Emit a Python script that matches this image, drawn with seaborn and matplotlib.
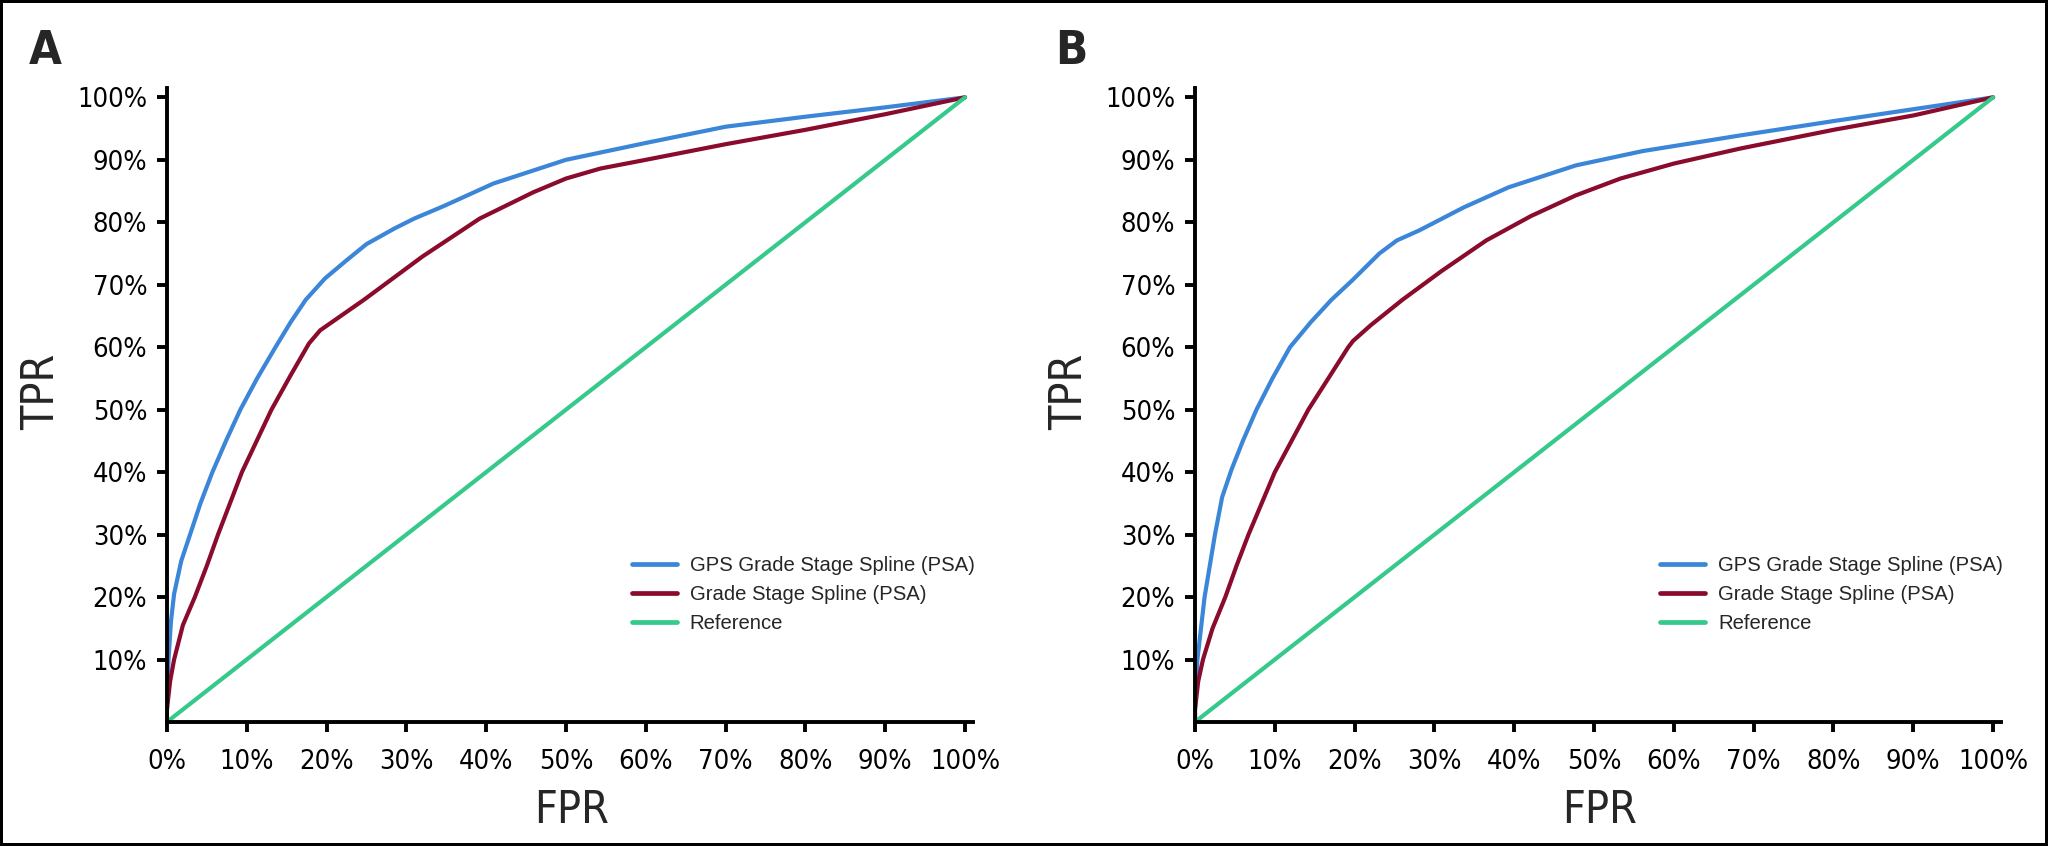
import matplotlib
matplotlib.use("Agg")
import matplotlib.pyplot as plt
import seaborn as sns
import pandas as pd
from matplotlib.ticker import FixedLocator, FuncFormatter

# Panel A curves
a_gps_fpr = [0.0, 0.0, 0.002, 0.005, 0.009, 0.018, 0.029, 0.042, 0.057, 0.074, 0.092, 0.113, 0.136, 0.155, 0.174,
             0.198, 0.225, 0.250, 0.285, 0.310, 0.347, 0.409, 0.50, 0.60, 0.70, 0.80, 0.90, 1.0]
a_gps_tpr = [0.0, 0.015, 0.10, 0.16, 0.205, 0.258, 0.30, 0.35, 0.40, 0.45, 0.50, 0.55, 0.60, 0.64, 0.676,
             0.71, 0.739, 0.765, 0.790, 0.806, 0.826, 0.862, 0.90, 0.927, 0.953, 0.969, 0.984, 1.0]
a_gs_fpr = [0.0, 0.0, 0.004, 0.009, 0.020, 0.035, 0.050, 0.064, 0.094, 0.131, 0.155, 0.178, 0.192, 0.247, 0.32,
            0.392, 0.459, 0.50, 0.543, 0.60, 0.70, 0.80, 0.90, 1.0]
a_gs_tpr = [0.0, 0.02, 0.065, 0.10, 0.155, 0.20, 0.25, 0.30, 0.40, 0.50, 0.555, 0.606, 0.627, 0.676, 0.745,
            0.806, 0.848, 0.870, 0.886, 0.900, 0.925, 0.948, 0.973, 1.0]

# Panel B curves
b_gps_fpr = [0.0, 0.0, 0.003, 0.012, 0.025, 0.034, 0.046, 0.060, 0.077, 0.097, 0.119, 0.145, 0.171,
             0.197, 0.231, 0.253, 0.281, 0.337, 0.393, 0.477, 0.561, 0.683, 0.80, 0.90, 1.0]
b_gps_tpr = [0.0, 0.02, 0.10, 0.20, 0.30, 0.36, 0.405, 0.45, 0.50, 0.55, 0.60, 0.64, 0.676,
             0.707, 0.75, 0.771, 0.787, 0.824, 0.856, 0.891, 0.914, 0.939, 0.962, 0.981, 1.0]
b_gs_fpr = [0.0, 0.0, 0.004, 0.010, 0.022, 0.038, 0.052, 0.067, 0.100, 0.142, 0.167, 0.192, 0.198, 0.220, 0.260,
            0.309, 0.365, 0.421, 0.477, 0.533, 0.60, 0.683, 0.80, 0.90, 1.0]
b_gs_tpr = [0.0, 0.02, 0.065, 0.10, 0.15, 0.20, 0.25, 0.30, 0.40, 0.50, 0.55, 0.60, 0.61, 0.635, 0.676,
            0.722, 0.771, 0.810, 0.843, 0.870, 0.894, 0.918, 0.948, 0.971, 1.0]

ref_fpr = [0.0, 1.0]
ref_tpr = [0.0, 1.0]

models = ["GPS Grade Stage Spline (PSA)", "Grade Stage Spline (PSA)", "Reference"]
colors = ["#3b86d8", "#8a0b2c", "#35c98b"]
x_ticks = [0.0, 0.1, 0.2, 0.3, 0.4, 0.5, 0.6, 0.7, 0.8, 0.9, 1.0]
y_ticks = [0.1, 0.2, 0.3, 0.4, 0.5, 0.6, 0.7, 0.8, 0.9, 1.0]


def make_frame(gps_fpr, gps_tpr, gs_fpr, gs_tpr):
    parts = []
    for name, fpr, tpr in zip(models, [gps_fpr, gs_fpr, ref_fpr], [gps_tpr, gs_tpr, ref_tpr]):
        parts.append(pd.DataFrame({"FPR": fpr, "TPR": tpr, "Model": name}))
    return pd.concat(parts, ignore_index=True)


sns.set_style("ticks")
plt.rcParams["font.family"] = ["DejaVu Sans"]
plt.rcParams["font.stretch"] = "condensed"

fig = plt.figure(figsize=(10.24, 4.23), dpi=200)
fig.patch.set_edgecolor("black")
fig.patch.set_linewidth(2)

panels = [
    ("A", 0.0815, 29, make_frame(a_gps_fpr, a_gps_tpr, a_gs_fpr, a_gs_tpr)),
    ("B", 0.5835, 1055, make_frame(b_gps_fpr, b_gps_tpr, b_gs_fpr, b_gs_tpr)),
]

pct = FuncFormatter(lambda v, p: f"{v * 100:.0f}%")

for letter, left, letter_x, df in panels:
    ax = fig.add_axes([left, 0.1466, 0.3936, 0.7494])
    sns.lineplot(data=df, x="FPR", y="TPR", hue="Model", hue_order=models, palette=colors,
                 sort=False, estimator=None, linewidth=1.5, ax=ax)
    ax.set_xlim(0, 1.01)
    ax.set_ylim(0, 1.015)
    ax.xaxis.set_major_locator(FixedLocator(x_ticks))
    ax.yaxis.set_major_locator(FixedLocator(y_ticks))
    ax.xaxis.set_major_formatter(pct)
    ax.yaxis.set_major_formatter(pct)
    sns.despine(ax=ax)
    for side in ["left", "bottom"]:
        ax.spines[side].set_linewidth(1.4)
        ax.spines[side].set_color("black")
    ax.tick_params(axis="both", direction="out", length=3.6, width=1.4, color="black",
                   labelsize=9.8, labelcolor="black")
    ax.tick_params(axis="x", pad=6)
    ax.tick_params(axis="y", pad=3.5)
    ax.set_xlabel("FPR", fontsize=16)
    ax.set_ylabel("TPR", fontsize=16)
    ax.xaxis.set_label_coords(0.502, -0.105)
    ax.yaxis.set_label_coords(-0.129, 0.52)

    old = ax.get_legend()
    handles = old.legend_handles
    labels = [t.get_text() for t in old.get_texts()]
    for h in handles:
        h.set_linewidth(1.7)
    ax.legend(handles, labels, loc="upper left", bbox_to_anchor=(0.577, 0.262), frameon=False,
              borderpad=0, borderaxespad=0, handlelength=2.2, handletextpad=0.65,
              labelspacing=0.5, prop={"family": "Liberation Sans", "size": 7.3, "stretch": "normal"})

    fig.text(letter_x / 2048, 1 - 29 / 846, letter, ha="left", va="top",
             fontsize=17, fontweight="bold")

fig.savefig("out.png", dpi=200)
